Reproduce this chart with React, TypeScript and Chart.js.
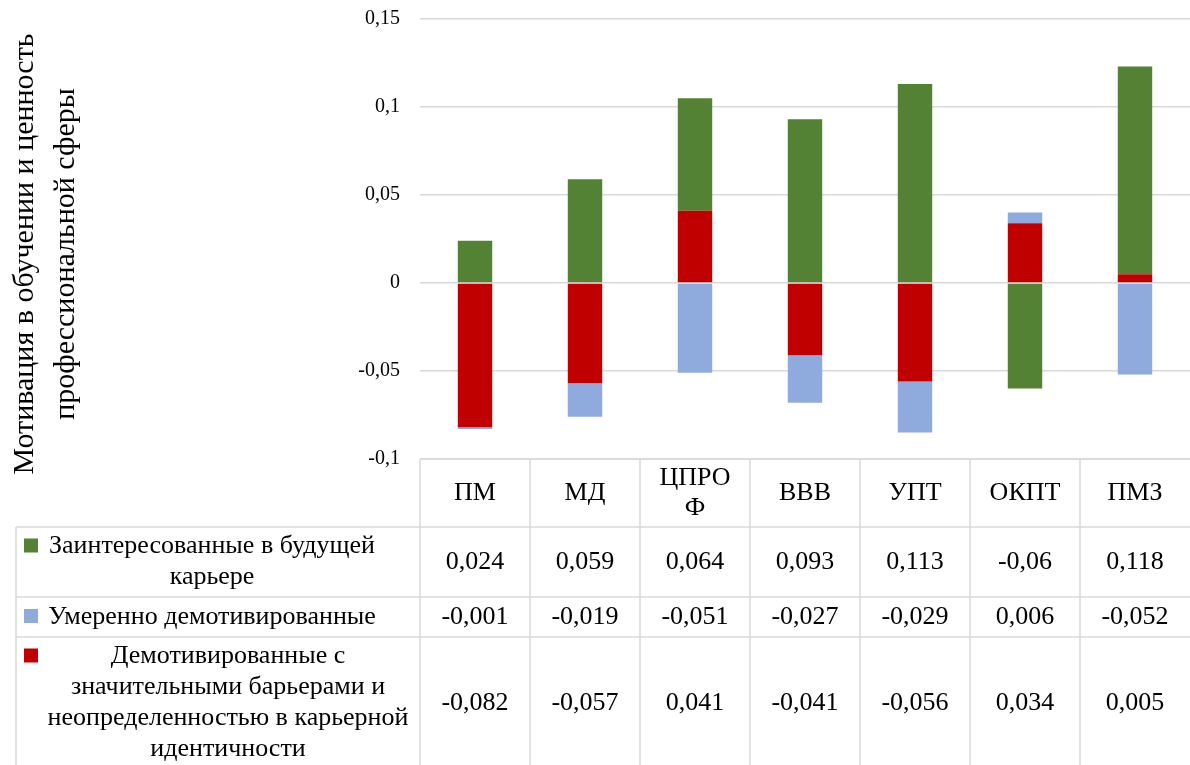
import React, { useEffect, useRef } from "react";
import { Chart, registerables } from "chart.js";

Chart.register(...registerables);

// ---- data ----
const categories: string[][] = [["ПМ"], ["МД"], ["ЦПРО", "Ф"], ["ВВВ"], ["УПТ"], ["ОКПТ"], ["ПМЗ"]];
const interested = [0.024, 0.059, 0.064, 0.093, 0.113, -0.06, 0.118];
const moderate = [-0.001, -0.019, -0.051, -0.027, -0.029, 0.006, -0.052];
const demotivated = [-0.082, -0.057, 0.041, -0.041, -0.056, 0.034, 0.005];
const interestedName = ["Заинтересованные в будущей", "карьере"];
const moderateName = ["Умеренно демотивированные"];
const demotivatedName = ["Демотивированные с", "значительными барьерами и", "неопределенностью в карьерной", "идентичности"];
const yTitle = ["Мотивация в обучении и ценность", "профессиональной сферы"];
const yMin = -0.1;
const yMax = 0.15;
const yStep = 0.05;

const GREEN = "#548235";
const BLUE = "#8FAADC";
const RED = "#C00000";
const FONT = "'Liberation Serif', 'Times New Roman', serif";

const fmt = (v: number) => String(v).replace(".", ",");

const tableRows = [
  { name: interestedName, data: interested, color: GREEN, height: 70, textX: 212 },
  { name: moderateName, data: moderate, color: BLUE, height: 40, textX: 212 },
  { name: demotivatedName, data: demotivated, color: RED, height: 132, textX: 228 },
];

const tablePlugin = {
  id: "dataTable",
  afterDraw(chart: any) {
    const ctx: CanvasRenderingContext2D = chart.ctx;
    const xs = chart.scales.x;
    const area = chart.chartArea;
    const n = chart.data.labels.length;
    const colW = (area.right - area.left) / n;
    const top = area.bottom;
    const H = chart.height;
    const headerH = 68;
    const legendLeft = 16;
    const lineH = 31;

    ctx.save();
    ctx.strokeStyle = "#d9d9d9";
    ctx.lineWidth = 1.5;
    const line = (x1: number, y1: number, x2: number, y2: number) => {
      ctx.beginPath();
      ctx.moveTo(x1, y1);
      ctx.lineTo(x2, y2);
      ctx.stroke();
    };
    line(area.left, top, area.right, top);
    let y = top + headerH;
    const rowTops: number[] = [];
    tableRows.forEach((r) => {
      rowTops.push(y);
      line(legendLeft, y, area.right, y);
      y += r.height;
    });
    line(legendLeft, top + headerH, legendLeft, H + 10);
    for (let i = 0; i < n; i++) {
      const xl = xs.getPixelForValue(i) - colW / 2;
      line(xl, top, xl, H + 10);
    }

    ctx.fillStyle = "#000";
    ctx.textAlign = "center";
    ctx.textBaseline = "middle";
    ctx.font = `26px ${FONT}`;
    // header labels
    const headerC = top + headerH / 2;
    chart.data.labels.forEach((lab: string[], i: number) => {
      const cx = xs.getPixelForValue(i);
      const lines = Array.isArray(lab) ? lab : [lab];
      lines.forEach((t, k) => {
        ctx.fillText(t, cx, headerC + (k - (lines.length - 1) / 2) * 30);
      });
    });
    // rows
    tableRows.forEach((r, ri) => {
      const rc = rowTops[ri] + r.height / 2;
      r.data.forEach((v, i) => {
        ctx.fillStyle = "#000";
        ctx.fillText(fmt(v), xs.getPixelForValue(i), rc);
      });
      const firstY = rc - ((r.name.length - 1) / 2) * lineH;
      ctx.fillStyle = r.color;
      ctx.fillRect(24, firstY - 8, 14, 14);
      ctx.fillStyle = "#000";
      r.name.forEach((t, k) => ctx.fillText(t, r.textX, firstY + k * lineH));
    });

    // y-axis title
    ctx.font = `30px ${FONT}`;
    const titleXs = [25, 66];
    yTitle.forEach((t, k) => {
      ctx.save();
      ctx.translate(titleXs[k], 254);
      ctx.rotate(-Math.PI / 2);
      ctx.fillText(t, 0, 0);
      ctx.restore();
    });
    ctx.restore();
  },
};

export default function App() {
  const ref = useRef<HTMLCanvasElement | null>(null);
  useEffect(() => {
    if (!ref.current) return;
    const chart = new Chart(ref.current, {
      type: "bar",
      data: {
        labels: categories as any,
        datasets: [
          { label: demotivatedName.join(" "), data: demotivated, backgroundColor: RED, borderWidth: 0 },
          { label: moderateName.join(" "), data: moderate, backgroundColor: BLUE, borderWidth: 0 },
          { label: interestedName.join(" "), data: interested, backgroundColor: GREEN, borderWidth: 0 },
        ],
      },
      options: {
        animation: false,
        responsive: false,
        devicePixelRatio: 1,
        layout: { padding: { left: 0, right: 0, top: 19, bottom: 306 } },
        datasets: { bar: { categoryPercentage: 0.313, barPercentage: 1 } },
        plugins: { legend: { display: false }, tooltip: { enabled: false }, title: { display: false } },
        scales: {
          x: {
            stacked: true,
            display: false,
          },
          y: {
            stacked: true,
            min: yMin,
            max: yMax,
            ticks: {
              stepSize: yStep,
              padding: 0,
              color: "#000",
              font: { family: FONT, size: 20 },
              callback: (v: any) => fmt(Math.round(Number(v) * 100) / 100),
            },
            grid: {
              color: "#d9d9d9",
              lineWidth: 1.5,
              drawTicks: true,
              tickLength: 20,
              tickColor: "rgba(0,0,0,0)",
            },
            border: { display: false },
            afterFit: (s: any) => {
              s.width = 420;
            },
          },
        },
      },
      plugins: [tablePlugin],
    });
    return () => chart.destroy();
  }, []);
  return (
    <div style={{ position: "absolute", left: 0, top: 0, width: 1190, height: 765, background: "#fff" }}>
      <canvas ref={ref} width={1190} height={765} style={{ display: "block" }} />
    </div>
  );
}
